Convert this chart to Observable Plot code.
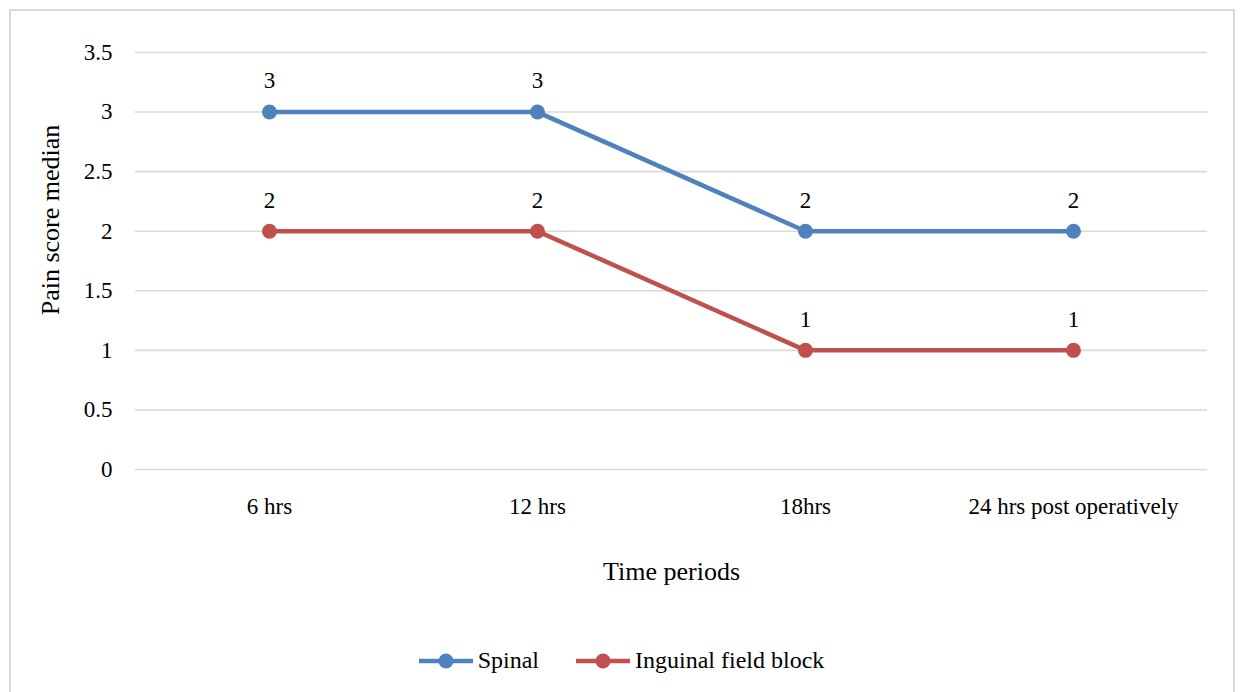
<!DOCTYPE html>
<html>
<head>
<meta charset="utf-8">
<script src="https://cdn.jsdelivr.net/npm/d3@7"></script>
<script src="https://cdn.jsdelivr.net/npm/@observablehq/plot@0.6"></script>
<style>
  html, body { margin: 0; padding: 0; background: #fff; }
  #wrap { position: relative; width: 1242px; height: 692px; overflow: hidden; font-family: "Liberation Serif", "Times New Roman", serif; }
  #frame { position: absolute; left: 9px; top: 9px; width: 1226px; height: 700px; border: 2px solid #d9d9d9; box-sizing: border-box; }
  #chart { position: absolute; left: 0; top: 0; }
  #legend { position: absolute; left: 0; top: 647px; width: 1242px; display: flex; justify-content: center; align-items: center; font-size: 24px; color: #000; }
  .item { display: flex; align-items: center; margin: 0 18px; }
  .item svg { margin-right: 4px; }
</style>
</head>
<body>
<div id="wrap">
  <div id="frame"></div>
  <div id="chart"></div>
  <div id="legend"></div>
</div>
<script>
// Median pain scores by time after surgery, two anaesthesia groups
const periods = ["6 hrs", "12 hrs", "18hrs", "24 hrs post operatively"];
const spinal = [3, 3, 2, 2];
const inguinal = [2, 2, 1, 1];
const seriesNames = ["Spinal", "Inguinal field block"];
const seriesColors = ["#4f81bd", "#c0504d"];
const yTicks = [0, 0.5, 1, 1.5, 2, 2.5, 3, 3.5];

const rows = [];
[spinal, inguinal].forEach((vals, s) => {
  vals.forEach((v, i) => rows.push({period: periods[i], value: v, series: seriesNames[s]}));
});

const font = `"Liberation Serif", "Times New Roman", serif`;

const chart = Plot.plot({
  width: 1242,
  height: 600,
  marginLeft: 135,
  marginRight: 35,
  marginTop: 52,
  marginBottom: 131,
  style: {fontFamily: font, fontSize: "23px", color: "#000", background: "transparent"},
  x: {type: "point", domain: periods, padding: 0.5, label: null},
  y: {domain: [0, 3.5], label: null},
  color: {domain: seriesNames, range: seriesColors},
  marks: [
    Plot.gridY(yTicks, {stroke: "#d9d9d9", strokeOpacity: 1, strokeWidth: 1.6}),
    Plot.axisY(yTicks, {tickSize: 0, tickPadding: 23, tickFormat: d3.format("~g"), label: null, fontSize: 23}),
    Plot.axisX({tickSize: 0, tickPadding: 28, label: null, fontSize: 23}),
    Plot.line(rows, {x: "period", y: "value", z: "series", stroke: "series", strokeWidth: 4.5}),
    Plot.dot(rows, {x: "period", y: "value", fill: "series", r: 7.5}),
    Plot.text(rows, {x: "period", y: "value", text: "value", dy: -31, fontSize: 23, fill: "#000"}),
    Plot.text(["Time periods"], {frameAnchor: "bottom", lineAnchor: "middle", textAnchor: "middle", dy: 102, fontSize: 26, fill: "#000"}),
    Plot.text(["Pain score median"], {frameAnchor: "left", lineAnchor: "middle", textAnchor: "middle", dx: -85, dy: -41, rotate: -90, fontSize: 26, fill: "#000"})
  ]
});
document.getElementById("chart").appendChild(chart);

// Legend: line-with-marker swatches
const legend = document.getElementById("legend");
seriesNames.forEach((name, i) => {
  const item = document.createElement("div");
  item.className = "item";
  item.innerHTML = `<svg width="56" height="16"><line x1="1" y1="8" x2="55" y2="8" stroke="${seriesColors[i]}" stroke-width="4.5"/><circle cx="28" cy="8" r="7.5" fill="${seriesColors[i]}"/></svg><span>${name}</span>`;
  legend.appendChild(item);
});
</script>
</body>
</html>
